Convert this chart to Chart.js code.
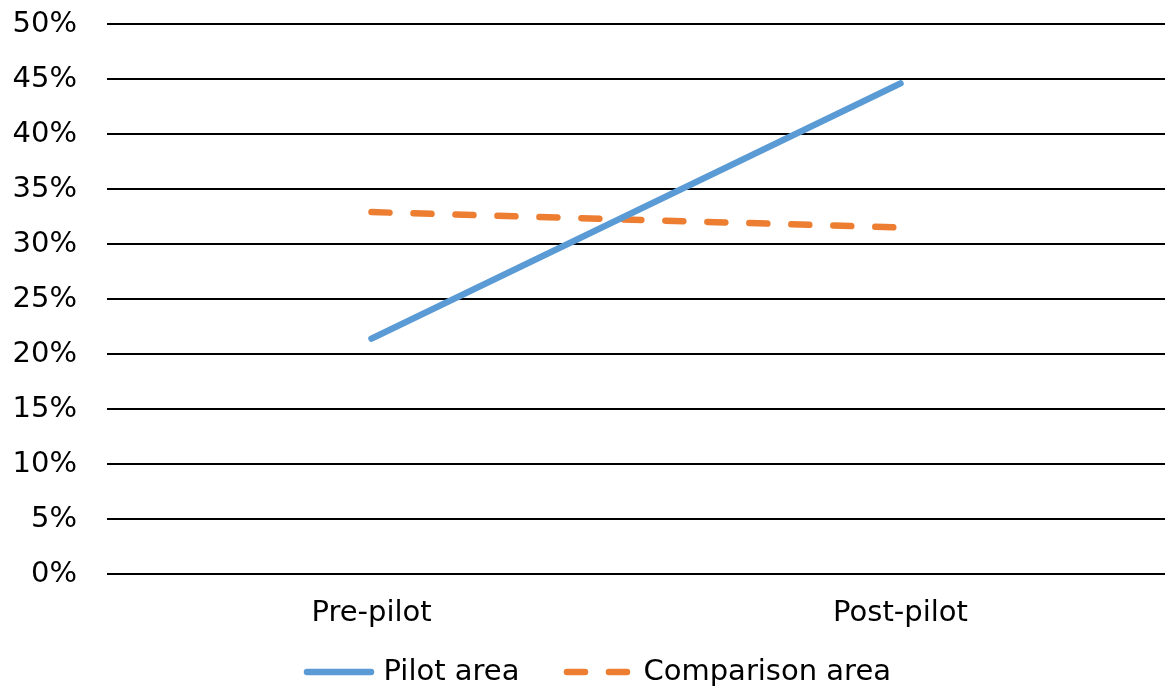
<!DOCTYPE html>
<html>
<head>
<meta charset="utf-8">
<script src="https://cdn.jsdelivr.net/npm/chart.js@4"></script>
<style>
  html, body { margin: 0; padding: 0; background: #fff; }
  #wrap { width: 1165px; height: 689px; }
</style>
</head>
<body>
<div id="wrap"><canvas id="c"></canvas></div>
<script>
// Share of cases, before and after the pilot
const periods = ['Pre-pilot', 'Post-pilot'];
const pilotArea = [21.4, 44.6];
const comparisonArea = [32.9, 31.5];
const yTicks = { min: 0, max: 50, step: 5 };

const FONT = { family: '"DejaVu Sans", Verdana, sans-serif', size: 29 };
const LINE_W = 6.5;

// Legend row under the axis: a stroke sample followed by the series name
const legendRow = {
  id: 'legendRow',
  afterDraw(chart, args, opts) {
    const ctx = chart.ctx;
    ctx.save();
    ctx.font = `${FONT.size}px ${FONT.family}`;
    ctx.textBaseline = 'middle';
    ctx.textAlign = 'left';
    const items = chart.data.datasets.map(ds => ({
      ds, w: opts.sample + opts.textGap + ctx.measureText(ds.label).width
    }));
    const total = items.reduce((s, it) => s + it.w, 0) + opts.itemGap * (items.length - 1);
    let x = opts.centerX - total / 2;
    const y = opts.y;
    items.forEach(({ ds, w }) => {
      ctx.beginPath();
      ctx.strokeStyle = ds.borderColor;
      ctx.lineWidth = ds.borderWidth;
      ctx.lineCap = 'round';
      ctx.setLineDash(ds.borderDash || []);
      ctx.moveTo(x, y);
      ctx.lineTo(x + opts.sample, y);
      ctx.stroke();
      ctx.setLineDash([]);
      ctx.fillStyle = '#000';
      ctx.fillText(ds.label, x + opts.sample + opts.textGap, y);
      x += w + opts.itemGap;
    });
    ctx.restore();
  }
};

new Chart(document.getElementById('c'), {
  type: 'line',
  data: {
    labels: periods,
    datasets: [
      {
        label: 'Pilot area',
        data: pilotArea,
        borderColor: '#5B9BD5',
        backgroundColor: '#5B9BD5',
        borderWidth: LINE_W,
        borderCapStyle: 'round',
        pointRadius: 0,
        pointHoverRadius: 0,
        tension: 0
      },
      {
        label: 'Comparison area',
        data: comparisonArea,
        borderColor: '#ED7D31',
        backgroundColor: '#ED7D31',
        borderWidth: LINE_W,
        borderDash: [18, 24],
        borderCapStyle: 'round',
        pointRadius: 0,
        pointHoverRadius: 0,
        tension: 0
      }
    ]
  },
  plugins: [legendRow],
  options: {
    responsive: true,
    maintainAspectRatio: false,
    animation: false,
    devicePixelRatio: 1,
    layout: { padding: { left: 0, right: 0, top: 0, bottom: 55 } },
    plugins: {
      tooltip: { enabled: false },
      legend: { display: false },
      legendRow: { centerX: 599, y: 672, sample: 64, textGap: 12.5, itemGap: 47.5 }
    },
    scales: {
      x: {
        offset: true,
        grid: { display: false, drawTicks: false },
        border: { display: false },
        ticks: { color: '#000', font: FONT, padding: 22, maxRotation: 0 },
        afterFit(scale) { scale.height = 60; }
      },
      y: {
        min: yTicks.min,
        max: yTicks.max,
        grid: { color: '#000', lineWidth: 2, drawTicks: false },
        border: { display: false },
        ticks: {
          stepSize: yTicks.step,
          color: '#000',
          font: FONT,
          padding: 30,
          callback: v => v + '%'
        },
        afterFit(scale) {
          scale.width = 107;
          scale.paddingTop = 24;
        }
      }
    }
  }
});
</script>
</body>
</html>
